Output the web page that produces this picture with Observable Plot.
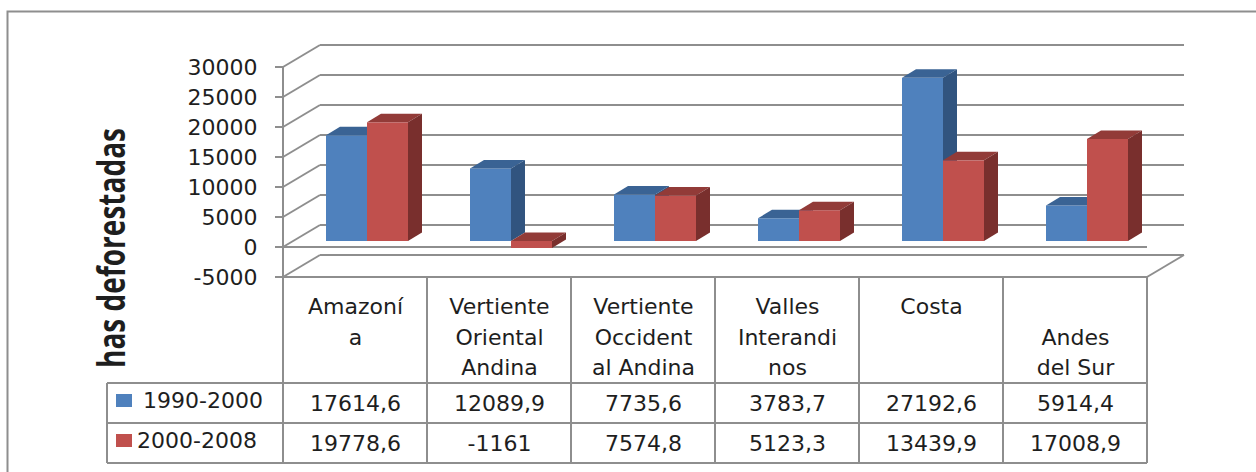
<!DOCTYPE html>
<html><head><meta charset="utf-8">
<script src="https://cdn.jsdelivr.net/npm/d3@7"></script>
<script src="https://cdn.jsdelivr.net/npm/@observablehq/plot@0.6"></script>
<style>
html,body{margin:0;padding:0;background:#fff;}
#chart svg text{fill:#1e1e1e;}
</style></head><body><div id="chart"></div>
<script>
// ---- data ----
const categories = ["Amazonía","Vertiente Oriental Andina","Vertiente Occidental Andina","Valles Interandinos","Costa","Andes del Sur"];
const categoryLabels = ["Amazoní\na","Vertiente\nOriental\nAndina","Vertiente\nOccident\nal Andina","Valles\nInterandi\nnos","Costa","\nAndes\ndel Sur"];
const series = ["1990-2000","2000-2008"];
const values1990 = [17614.6,12089.9,7735.6,3783.7,27192.6,5914.4];
const values2000 = [19778.6,-1161,7574.8,5123.3,13439.9,17008.9];
const yTicks = [-5000,0,5000,10000,15000,20000,25000,30000];
const yTitle = "has deforestadas";

// ---- styling ----
const frontColors = ["#4F81BD","#C0504D"];
const topColors = ["#3A6394","#923B38"];
const sideColors = ["#31547F","#792F2D"];
const lineColor = "#8e8e8e";
const WALL_DX = 37, WALL_DY = -22;
const BAR_DX = 12, BAR_DY = -6, BAR_W = 41, BDX = 14, BDY = -8.5;

const valuesBySeries = [values1990, values2000];
const rows = categories.flatMap((c,i) => series.map((s,k) => ({category:c, series:s, k, value: valuesBySeries[k][i]})));
const fmt = v => String(v).replace(".", ",");

function walls(index, scales) {
  const g = d3.create("svg:g").attr("stroke", lineColor).attr("stroke-width", 2).attr("fill", "none");
  const [x0, x1] = scales.x.range();
  const y = scales.y;
  for (const t of yTicks) {
    g.append("line").attr("x1", x0 + WALL_DX).attr("x2", x1 + WALL_DX).attr("y1", y(t) + WALL_DY).attr("y2", y(t) + WALL_DY);
    g.append("line").attr("x1", x0).attr("x2", x0 + WALL_DX).attr("y1", y(t)).attr("y2", y(t) + WALL_DY);
    g.append("line").attr("x1", x0 - 8).attr("x2", x0).attr("y1", y(t)).attr("y2", y(t));
  }
  const yMin = y(yTicks[0]), yMax = y(yTicks[yTicks.length - 1]);
  g.append("line").attr("x1", x0).attr("x2", x0).attr("y1", yMax).attr("y2", yMin);
  g.append("line").attr("x1", x0).attr("x2", x1).attr("y1", y(0)).attr("y2", y(0));
  g.append("line").attr("x1", x0).attr("x2", x1).attr("y1", yMin).attr("y2", yMin);
  g.append("line").attr("x1", x1).attr("x2", x1 + WALL_DX).attr("y1", yMin).attr("y2", yMin + WALL_DY);
  return g.node();
}

function faces(k) {
  return (index, scales) => {
    const g = d3.create("svg:g");
    const bw = scales.x.bandwidth();
    for (const d of rows.filter(r => r.k === k)) {
      const cx = scales.x(d.category) + bw / 2 + BAR_DX;
      const xl = k === 0 ? cx - BAR_W : cx;
      const xr = xl + BAR_W;
      const yt = scales.y(Math.max(d.value, 0)) + BAR_DY;
      const yb = scales.y(Math.min(d.value, 0)) + BAR_DY;
      g.append("path").attr("fill", topColors[k])
        .attr("d", `M${xl},${yt}L${xr},${yt}L${xr+BDX},${yt+BDY}L${xl+BDX},${yt+BDY}Z`);
      g.append("path").attr("fill", sideColors[k])
        .attr("d", `M${xr},${yt}L${xr+BDX},${yt+BDY}L${xr+BDX},${yb+BDY}L${xr},${yb}Z`);
    }
    return g.node();
  };
}

function tableAndLegend(index, scales) {
  const g = d3.create("svg:g");
  const lines = g.append("g").attr("stroke", lineColor).attr("stroke-width", 2).attr("fill", "none");
  const [x0, x1] = scales.x.range();
  const yTop = scales.y(yTicks[0]);
  const rowTops = [yTop + 106, yTop + 146, yTop + 186];
  const legendLeft = 107;
  for (const c of categories) {
    const xs = scales.x(c);
    lines.append("line").attr("x1", xs).attr("x2", xs).attr("y1", yTop).attr("y2", rowTops[2]);
  }
  lines.append("line").attr("x1", x1).attr("x2", x1).attr("y1", yTop).attr("y2", rowTops[2]);
  for (const ry of rowTops) lines.append("line").attr("x1", legendLeft).attr("x2", x1).attr("y1", ry).attr("y2", ry);
  lines.append("line").attr("x1", legendLeft).attr("x2", legendLeft).attr("y1", rowTops[0]).attr("y2", rowTops[2]);
  // legend
  series.forEach((s, k) => {
    g.append("rect").attr("x", 116).attr("y", rowTops[k] + 11).attr("width", 16).attr("height", 13).attr("fill", frontColors[k]);
    g.append("text").attr("x", k === 0 ? 143 : 137).attr("y", rowTops[k] + 25)
      .attr("text-anchor", "start").attr("font-size", 22).text(s);
  });
  // outer border
  g.append("path").attr("d", "M7.5,472V11.5H1256").attr("stroke", lineColor).attr("stroke-width", 2).attr("fill", "none");
  // axis title
  g.append("text").attr("transform", "translate(125,248) rotate(-90)").attr("text-anchor", "middle")
    .attr("font-family", "Open Sans").attr("font-weight", "bold").attr("font-size", 37)
    .attr("textLength", 240).attr("lengthAdjust", "spacingAndGlyphs").text(yTitle);
  return g.node();
}

const marks = [walls];
series.forEach((s, k) => {
  marks.push(Plot.barY(rows.filter(r => r.k === k), {
    x: "category", y: "value", fill: frontColors[k],
    insetLeft: k === 0 ? 31 : 72, insetRight: k === 0 ? 72 : 31, dx: BAR_DX, dy: BAR_DY
  }));
  marks.push(faces(k));
});
marks.push(tableAndLegend);
marks.push(Plot.text(categories, {x: d => d, text: (d, i) => categoryLabels[i], frameAnchor: "bottom", lineAnchor: "top", dy: 15, lineHeight: 1.39, fontSize: 22}));
marks.push(Plot.text(values1990, {x: (d, i) => categories[i], text: fmt, frameAnchor: "bottom", lineAnchor: "middle", dy: 126, fontSize: 22}));
marks.push(Plot.text(values2000, {x: (d, i) => categories[i], text: fmt, frameAnchor: "bottom", lineAnchor: "middle", dy: 166, fontSize: 22}));

const chart = Plot.plot({
  width: 1256, height: 472,
  marginLeft: 283, marginRight: 109, marginTop: 67, marginBottom: 195,
  style: {fontFamily: "DejaVu Sans", fontSize: "22px", color: "#1e1e1e", background: "white", overflow: "visible"},
  x: {domain: categories, padding: 0, axis: null},
  y: {domain: [-5000, 30000], ticks: yTicks, tickFormat: d => String(d), tickSize: 0, tickPadding: 26, label: null},
  marks
});
document.getElementById("chart").appendChild(chart);
</script></body></html>
